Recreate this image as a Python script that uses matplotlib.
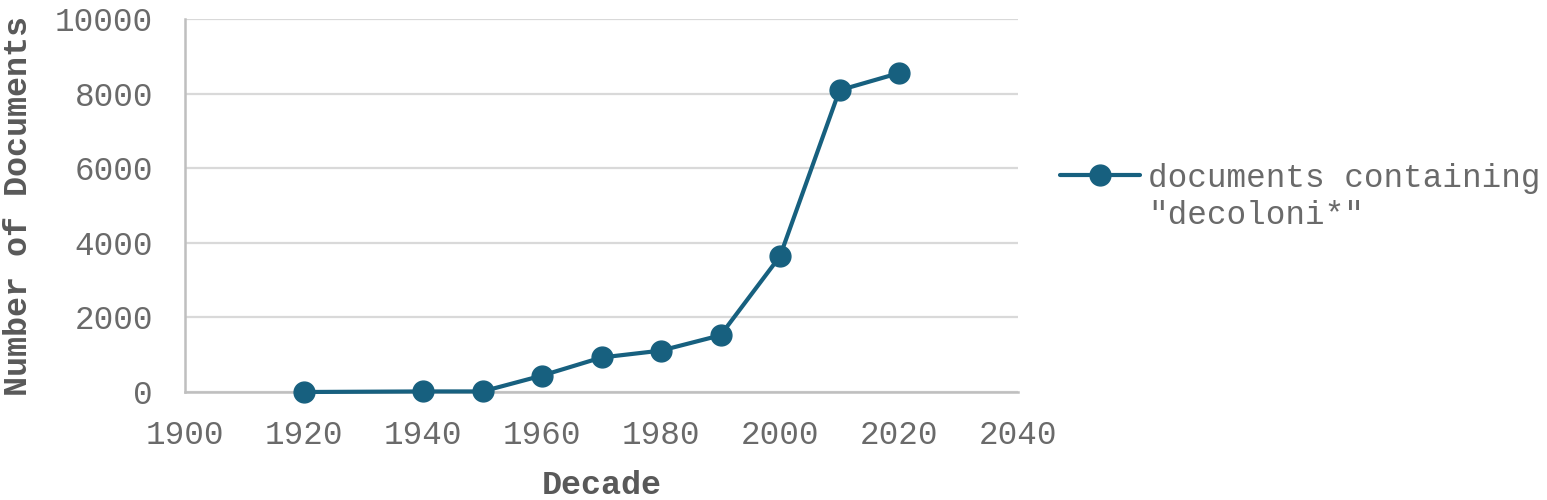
import matplotlib
matplotlib.use('Agg')
from matplotlib import pyplot as plt
from matplotlib.ticker import MultipleLocator

# data
decades = [1920, 1940, 1950, 1960, 1970, 1980, 1990, 2000, 2010, 2020]
documents = [0, 15, 15, 440, 925, 1110, 1520, 3640, 8090, 8550]
series_label = ['documents containing', '"decoloni*"']

LINE = '#17607f'
TEXT = '#595959'
TICK = '#6a6a6a'
FS = 23.5
plt.rcParams['font.family'] = ['Liberation Mono', 'DejaVu Sans Mono']

fig = plt.figure(figsize=(15.47, 5.0), dpi=100)
ax = fig.add_axes([185 / 1547, 1 - 392 / 500, (1018 - 185) / 1547, (392 - 19) / 500])

line, = ax.plot(decades, documents, color=LINE, lw=3, marker='o',
                markersize=15, solid_capstyle='round', zorder=3, clip_on=False)

ax.set_xlim(1900, 2040)
ax.set_ylim(0, 10000)
ax.xaxis.set_major_locator(MultipleLocator(20))
ax.yaxis.set_major_locator(MultipleLocator(2000))
ax.grid(axis='y', color='#d9d9d9', lw=1.6, zorder=0)
ax.set_axisbelow(True)
for side in ('top', 'right'):
    ax.spines[side].set_visible(False)
for side in ('left', 'bottom'):
    ax.spines[side].set_color('#bfbfbf')
    ax.spines[side].set_linewidth(1.8)
ax.tick_params(axis='both', length=0, labelsize=FS, labelcolor=TICK)
ax.tick_params(axis='x', pad=20)
ax.tick_params(axis='y', pad=23)

ax.set_xlabel('Decade', fontsize=24, fontweight='bold', color=TEXT, labelpad=14)
ax.set_ylabel('Number of Documents', fontsize=24, fontweight='bold', color=TEXT, labelpad=15)

# legend: handle sits on the first line, second line wraps under the text
fig.legend([line], [series_label[0]], loc='center left',
           bbox_to_anchor=(1060 / 1547, 1 - 178 / 500), frameon=False,
           fontsize=FS, labelcolor=TICK, handlelength=2.45, handletextpad=0.25,
           borderpad=0, borderaxespad=0)
fig.text(1148 / 1547, 1 - 216 / 500, series_label[1], fontsize=FS,
         color=TICK, ha='left', va='center')

fig.savefig('out.png', dpi=100)
plt.close(fig)
